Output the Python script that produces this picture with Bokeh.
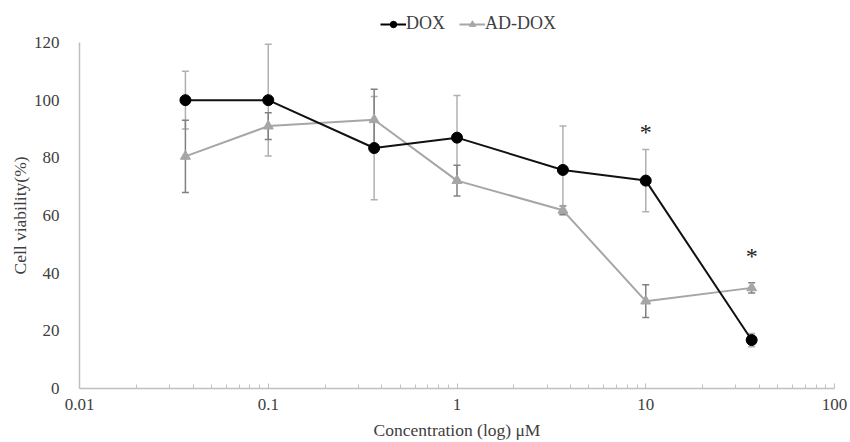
from bokeh.plotting import figure
from bokeh.layouts import column
from bokeh.models import (ColumnDataSource, Whisker, TeeHead, FixedTicker, Legend, LegendItem, Range1d)
from bokeh.core.properties import value
from bokeh.embed import file_html
from bokeh.resources import INLINE

conc = [0.0364, 0.1, 0.364, 1, 3.64, 10, 36.4]
dox = [100, 100, 83.4, 87.0, 75.8, 72.1, 16.8]
dox_err = [10, 19.4, 17.9, 14.6, 15.2, 10.8, 2.3]
ad_dox = [80.5, 91.0, 93.2, 72.1, 61.8, 30.3, 34.9]
ad_dox_err = [12.5, 4.6, 10.6, 5.3, 1.5, 5.7, 1.8]
star_x = [10, 36.4]
star_y = [89, 46]
x_ticks = [0.01, 0.1, 1, 10, 100]
y_ticks = [0, 20, 40, 60, 80, 100, 120]
series_names = ["DOX", "AD-DOX"]

FONT = "Liberation Serif"
TXT = "#404040"
DOX_C = "#000000"
AD_C = "#a6a6a6"

# ---- legend strip on top ----
lg = figure(width=850, height=34, output_backend="svg", toolbar_location=None,
            x_range=Range1d(0, 1), y_range=Range1d(0, 1),
            min_border_left=0, min_border_right=0, min_border_top=0, min_border_bottom=0)
lg.axis.visible = False
lg.grid.visible = False
lg.outline_line_color = None
far = dict(x=[5], y=[5])
gl_d = lg.line(x="x", y="y", source=ColumnDataSource(far), line_color=DOX_C, line_width=2)
gs_d = lg.scatter(x="x", y="y", source=ColumnDataSource(far), marker="circle", size=9,
                  fill_color=DOX_C, line_color=DOX_C)
gl_a = lg.line(x="x", y="y", source=ColumnDataSource(far), line_color=AD_C, line_width=2)
gs_a = lg.scatter(x="x", y="y", source=ColumnDataSource(far), marker="triangle", size=9,
                  fill_color=AD_C, line_color=AD_C)
legend = Legend(items=[LegendItem(label=series_names[0], renderers=[gl_d, gs_d]),
                       LegendItem(label=series_names[1], renderers=[gl_a, gs_a])],
                orientation="horizontal", location=(301, 0),
                label_text_font=FONT, label_text_font_size="18px", label_text_color=TXT,
                glyph_width=26, glyph_height=16, label_standoff=0, spacing=14,
                label_height=20, padding=0, margin=0, background_fill_alpha=0,
                border_line_color=None)
lg.add_layout(legend, "center")

# ---- main chart ----
p = figure(width=850, height=408, x_axis_type="log", output_backend="svg", toolbar_location=None,
           x_range=Range1d(0.01, 100), y_range=Range1d(0, 120),
           min_border_left=79, min_border_right=16, min_border_top=8, min_border_bottom=54)
p.outline_line_color = None
p.xgrid.grid_line_color = None
p.ygrid.grid_line_color = None

src_d = ColumnDataSource(dict(x=conc, y=dox, lo=[a - b for a, b in zip(dox, dox_err)],
                              hi=[a + b for a, b in zip(dox, dox_err)]))
src_a = ColumnDataSource(dict(x=conc, y=ad_dox, lo=[a - b for a, b in zip(ad_dox, ad_dox_err)],
                              hi=[a + b for a, b in zip(ad_dox, ad_dox_err)]))

for src, col in ((src_d, "#b0b0b0"), (src_a, "#808080")):
    w = Whisker(source=src, base="x", upper="hi", lower="lo", dimension="height",
                line_color=col, line_width=1.5,
                upper_head=TeeHead(size=7, line_color=col, line_width=1.5),
                lower_head=TeeHead(size=7, line_color=col, line_width=1.5))
    p.add_layout(w)

p.line("x", "y", source=src_a, line_color=AD_C, line_width=2)
p.scatter("x", "y", source=src_a, marker="triangle", size=10, fill_color=AD_C, line_color=AD_C)
p.line("x", "y", source=src_d, line_color="#111111", line_width=2)
p.scatter("x", "y", source=src_d, marker="circle", size=11, fill_color=DOX_C, line_color=DOX_C)

p.text(x=star_x, y=star_y, text=["*", "*"], text_font=value(FONT), text_font_size="24px",
       text_color="#222222", text_align="center", text_baseline="middle")

xa = p.xaxis[0]
xa.ticker = FixedTicker(ticks=x_ticks,
                        minor_ticks=[m * d for d in [0.01, 0.1, 1, 10] for m in range(2, 10)])
xa.major_label_overrides = {t: ("%g" % t) for t in x_ticks}
xa.axis_line_color = "#bfbfbf"
xa.axis_line_width = 1.5
xa.major_tick_line_color = "#bfbfbf"
xa.minor_tick_line_color = "#bfbfbf"
xa.major_tick_in = 5
xa.major_tick_out = 0
xa.minor_tick_in = 4
xa.minor_tick_out = 0
xa.major_label_standoff = 10
xa.major_label_text_font = FONT
xa.major_label_text_font_size = "17px"
xa.major_label_text_color = TXT
xa.axis_label = "Concentration (log) \u03bcM"
xa.axis_label_text_font = FONT
xa.axis_label_text_font_size = "17.5px"
xa.axis_label_text_font_style = "normal"
xa.axis_label_text_color = TXT
xa.axis_label_standoff = 7

ya = p.yaxis[0]
ya.ticker = FixedTicker(ticks=y_ticks)
ya.axis_line_color = "#bfbfbf"
ya.axis_line_width = 1.5
ya.major_tick_line_color = None
ya.minor_tick_line_color = None
ya.major_label_standoff = 14
ya.major_label_text_font = FONT
ya.major_label_text_font_size = "17px"
ya.major_label_text_color = TXT
ya.axis_label = "Cell viability(%)"
ya.axis_label_text_font = FONT
ya.axis_label_text_font_size = "17.5px"
ya.axis_label_text_font_style = "normal"
ya.axis_label_text_color = TXT
ya.axis_label_standoff = 1

layout = column(lg, p, spacing=0)
open("out.html", "w").write(file_html(layout, INLINE))
